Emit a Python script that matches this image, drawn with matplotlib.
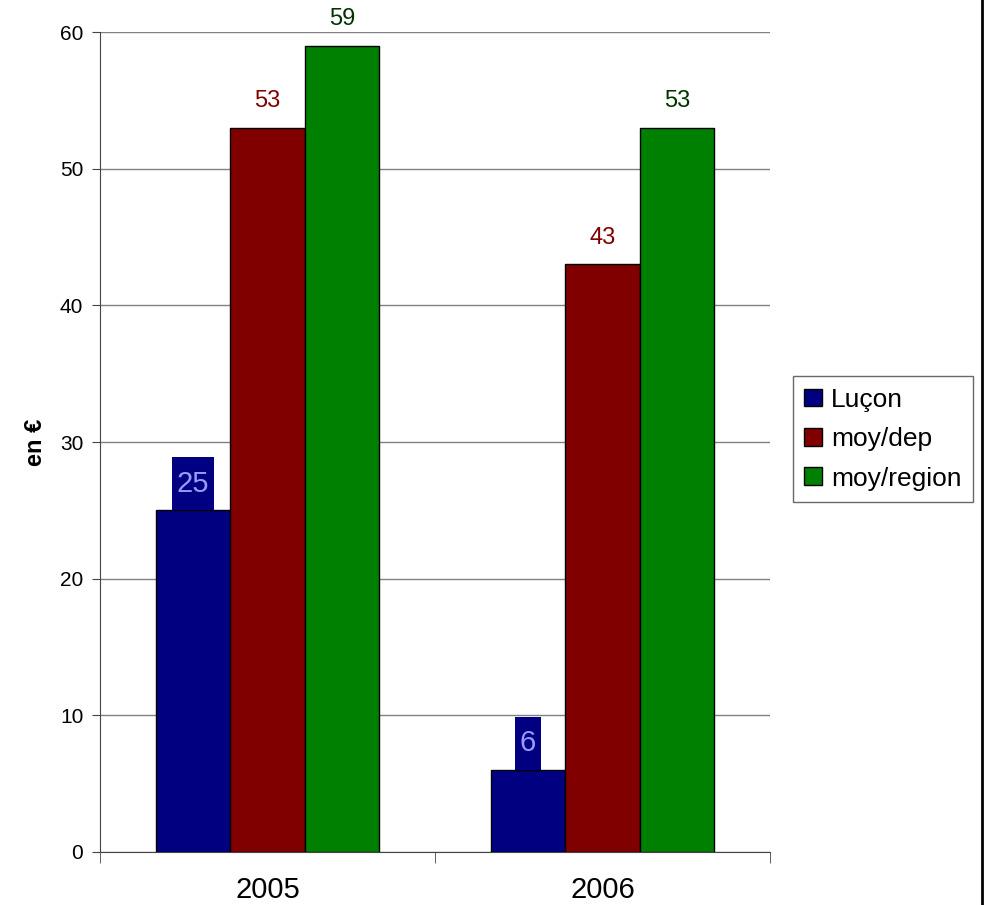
import numpy as np
import matplotlib.pyplot as plt
from matplotlib.lines import Line2D
from matplotlib.path import Path

plt.rcParams['font.family'] = ['Liberation Sans', 'DejaVu Sans']

# data
years = ["2005", "2006"]
series = ["Luçon", "moy/dep", "moy/region"]
lucon = [25, 6]
moy_dep = [53, 43]
moy_region = [59, 53]

colors = ["#000080", "#800000", "#008000"]
label_colors = ["#9999ff", "#800000", "#003300"]

PADX, PADY = 0.17, 0.43


def tall_box(x0, y0, width, height, mutation_size):
    # box with more room above and below the text than at the sides
    px = PADX * mutation_size
    py = PADY * mutation_size
    x0, y0 = x0 - px, y0 - py
    x1, y1 = x0 + width + 2 * px, y0 + height + 2 * py
    return Path([(x0, y0), (x1, y0), (x1, y1), (x0, y1), (x0, y0)],
                closed=True)


fig = plt.figure(figsize=(9.87, 9.05), dpi=100)
ax = fig.add_axes([0.1013, 0.0586, 0.6787, 0.906])

x = np.arange(len(years))
w = 0.222
values = [lucon, moy_dep, moy_region]

for i, (name, vals) in enumerate(zip(series, values)):
    pos = x + (i - 1) * w
    ax.bar(pos, vals, width=w, color=colors[i], edgecolor="black",
           linewidth=1, label=name, zorder=3)
    for px, v in zip(pos, vals):
        if i == 0:
            fs = 21
            ax.annotate(str(v), (px, v), xytext=(0, PADY * fs), textcoords="offset points",
                        ha="center", va="bottom", fontsize=fs, color=label_colors[i],
                        bbox=dict(boxstyle=tall_box, fc=colors[i], ec="none"),
                        zorder=4)
        else:
            ax.annotate(str(v), (px, v), xytext=(0, 11), textcoords="offset points",
                        ha="center", va="bottom", fontsize=17, color=label_colors[i])

ax.set_xlim(-0.5, 1.5)
ax.set_ylim(0, 60)
ax.set_yticks(range(0, 61, 10))
ax.tick_params(axis="y", labelsize=15, length=6, color="#444444", pad=6)
ax.set_xticks(x)
ax.set_xticklabels(years, fontsize=21)
ax.set_xticks([-0.5, 0.5, 1.5], minor=True)
ax.tick_params(axis="x", which="major", length=0, pad=17)
ax.tick_params(axis="x", which="minor", length=8, color="#444444")
ax.grid(axis="y", color="#808080", linewidth=1, zorder=0)
ax.set_axisbelow(True)
for s in ["top", "right"]:
    ax.spines[s].set_visible(False)
ax.spines["left"].set_color("#444444")
ax.spines["bottom"].set_color("#444444")

ax.set_ylabel("en €", fontsize=17, fontweight="bold", labelpad=9)

leg = fig.legend(loc="upper left", bbox_to_anchor=(0.803, 0.5845), fontsize=19,
                 frameon=True, fancybox=False, edgecolor="#444444",
                 handlelength=0.65, handleheight=0.65, handletextpad=0.35,
                 labelspacing=0.58, borderpad=0.45, borderaxespad=0)
leg.get_frame().set_linewidth(1)

fig.add_artist(Line2D([0.995, 0.995], [0, 1], color="black", linewidth=2,
                      transform=fig.transFigure))

fig.savefig("out.png", dpi=100)
